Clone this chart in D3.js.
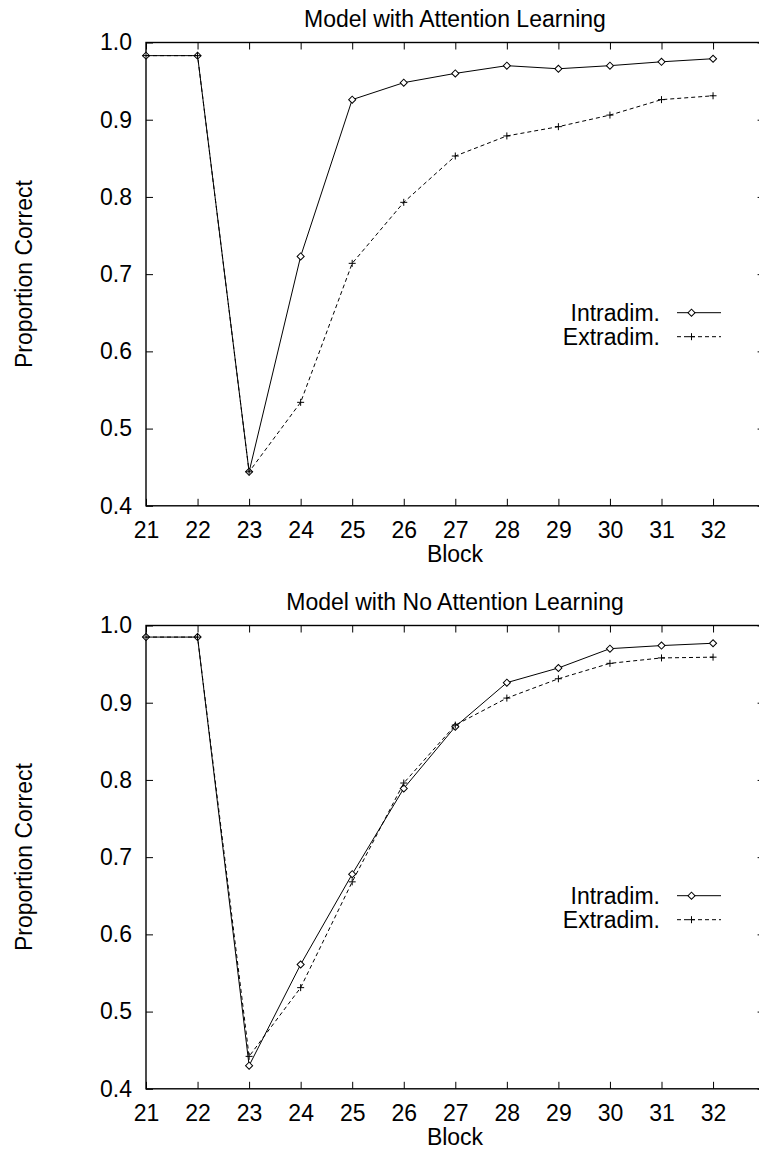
<!DOCTYPE html>
<html>
<head>
<meta charset="utf-8">
<script src="https://cdn.jsdelivr.net/npm/d3@7"></script>
<style>
  body { margin: 0; background: #fff; }
  svg { display: block; font-family: "Liberation Sans", Arial, sans-serif; }
  .tick line { stroke: #000; stroke-width: 1; }
  .tick text { fill: #000; font-size: 23px; }
  .domain { display: none; }
</style>
</head>
<body>
<div id="chart"></div>
<script>
// blocks on the x axis
var blocks = [21, 22, 23, 24, 25, 26, 27, 28, 29, 30, 31, 32];
var xTickValues = [21, 22, 23, 24, 25, 26, 27, 28, 29, 30, 31, 32];
var yTickValues = [0.4, 0.5, 0.6, 0.7, 0.8, 0.9, 1.0];

// model with attention learning
var intraAttn = [0.983, 0.983, 0.444, 0.723, 0.926, 0.948, 0.960, 0.970, 0.966, 0.970, 0.975, 0.979];
var extraAttn = [0.983, 0.983, 0.444, 0.534, 0.714, 0.793, 0.853, 0.879, 0.891, 0.906, 0.926, 0.931];

// model with no attention learning
var intraNoAttn = [0.985, 0.985, 0.430, 0.561, 0.678, 0.789, 0.869, 0.926, 0.945, 0.970, 0.974, 0.977];
var extraNoAttn = [0.985, 0.985, 0.442, 0.531, 0.668, 0.796, 0.871, 0.906, 0.931, 0.951, 0.958, 0.959];

var panelTitles = ["Model with Attention Learning", "Model with No Attention Learning"];
var seriesNames = ["Intradim.", "Extradim."];

var W = 759, H = 1151;
var svg = d3.select("#chart").append("svg").attr("width", W).attr("height", H);

var x = d3.scaleLinear().domain([21, 33]).range([146, 764.6]);

function plus(g, px, py) {
  var r = 3.5;
  g.append("path")
    .attr("d", "M" + (px - r) + "," + py + "H" + (px + r) + "M" + px + "," + (py - r) + "V" + (py + r))
    .attr("stroke", "#000").attr("stroke-width", 1).attr("fill", "none");
}
function diamond(g, px, py) {
  g.append("path")
    .attr("d", d3.symbol(d3.symbolSquare, 25)())
    .attr("transform", "translate(" + px + "," + py + ") rotate(45)")
    .attr("fill", "#fff").attr("stroke", "#000").attr("stroke-width", 1);
}

function panel(top, title, intra, extra) {
  var y = d3.scaleLinear().domain([0.4, 1.0]).range([top + 463.3, top]);
  var g = svg.append("g");
  var x0 = x.range()[0], x1 = x.range()[1];

  // ticks, all pointing inward
  g.append("g").attr("transform", "translate(0," + y(0.4) + ")")
    .call(d3.axisBottom(x).tickValues(xTickValues).tickSizeInner(-7).tickSizeOuter(0).tickPadding(16).tickFormat(d3.format("d")));
  g.append("g").attr("transform", "translate(0," + y(1.0) + ")")
    .call(d3.axisTop(x).tickValues(xTickValues).tickSizeInner(-7).tickSizeOuter(0).tickFormat(""));
  g.append("g").attr("transform", "translate(" + x0 + ",0)")
    .call(d3.axisLeft(y).tickValues(yTickValues).tickSizeInner(-7).tickSizeOuter(0).tickPadding(14).tickFormat(d3.format(".1f")));
  g.append("g").attr("transform", "translate(" + x1 + ",0)")
    .call(d3.axisRight(y).tickValues(yTickValues).tickSizeInner(-7).tickSizeOuter(0).tickFormat(""));

  g.append("rect")
    .attr("x", x0).attr("y", y(1.0))
    .attr("width", x1 - x0).attr("height", y(0.4) - y(1.0))
    .attr("fill", "none").attr("stroke", "#000").attr("stroke-width", 1.4);

  g.append("text").attr("x", 455).attr("y", top - 15.5)
    .attr("text-anchor", "middle").attr("font-size", 23).text(title);
  g.append("text").attr("x", 455).attr("y", y(0.4) + 56.5)
    .attr("text-anchor", "middle").attr("font-size", 23).text("Block");
  g.append("text")
    .attr("transform", "translate(32," + (top + 231.6) + ") rotate(-90)")
    .attr("text-anchor", "middle").attr("font-size", 23).text("Proportion Correct");

  var line = d3.line().x(function (d, i) { return x(blocks[i]); }).y(function (d) { return y(d); });

  g.append("path").datum(intra).attr("d", line)
    .attr("fill", "none").attr("stroke", "#000").attr("stroke-width", 1);
  intra.forEach(function (v, i) { diamond(g, x(blocks[i]), y(v)); });

  g.append("path").datum(extra).attr("d", line)
    .attr("fill", "none").attr("stroke", "#000").attr("stroke-width", 1)
    .attr("stroke-dasharray", "4,3");
  extra.forEach(function (v, i) { plus(g, x(blocks[i]), y(v)); });

  // legend
  var ly = [top + 270.2, top + 294.2];
  seriesNames.forEach(function (name, k) {
    g.append("text").attr("x", 660).attr("y", ly[k]).attr("dy", "0.35em")
      .attr("text-anchor", "end").attr("font-size", 23).text(name);
    g.append("line").attr("x1", 677).attr("x2", 721).attr("y1", ly[k]).attr("y2", ly[k])
      .attr("stroke", "#000").attr("stroke-width", 1)
      .attr("stroke-dasharray", k === 1 ? "4,3" : null);
    if (k === 0) diamond(g, 691.5, ly[k]); else plus(g, 691.5, ly[k]);
  });
}

panel(42.5, panelTitles[0], intraAttn, extraAttn);
panel(625.5, panelTitles[1], intraNoAttn, extraNoAttn);
</script>
</body>
</html>
